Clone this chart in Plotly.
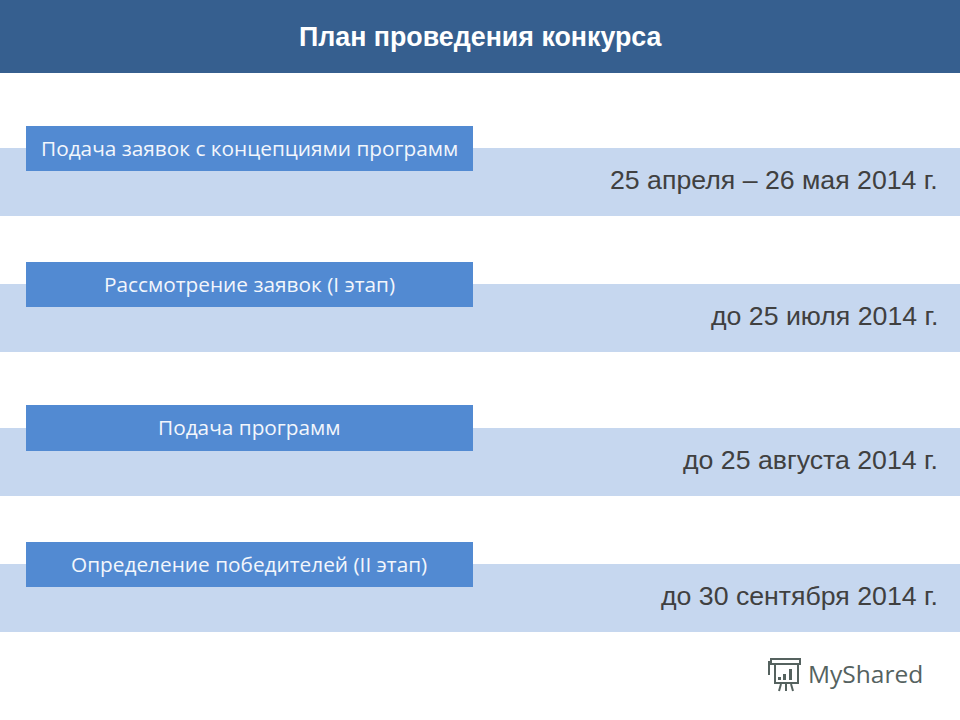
import plotly.graph_objects as go

title = 'План проведения конкурса'
stages = ['Подача заявок с концепциями программ', 'Рассмотрение заявок (I этап)', 'Подача программ', 'Определение победителей (II этап)']
dates = ['25 апреля – 26 мая 2014 г.', 'до 25 июля 2014 г.', 'до 25 августа 2014 г.', 'до 30 сентября 2014 г.']
logo_text = 'MyShared'

# layout, all in page pixels
band_tops = [148, 284, 428, 564]
box_tops = [126, 262, 405, 542]
box_heights = [45, 45, 46, 45]
band_h = 68
box_left = 26
box_w = 447

fig = go.Figure()

# header
fig.add_trace(go.Bar(x=[960], y=[36.5], width=[73], orientation='h', marker_color='#365F8F', marker_line_width=0, hoverinfo='skip'))
# light bands
fig.add_trace(go.Bar(
    x=[960] * len(dates), y=[t + band_h / 2 for t in band_tops], width=band_h,
    orientation='h', marker_color='#C6D7EF', marker_line_width=0, text=dates, hoverinfo='skip', textposition='none',
))
# stage boxes
fig.add_trace(go.Bar(
    x=[box_w] * len(stages), base=box_left, y=[t + h / 2 for t, h in zip(box_tops, box_heights)], width=box_heights,
    orientation='h', marker_color='#528AD2', marker_line_width=0, text=stages, hoverinfo='skip', textposition='none',
))

fig.add_annotation(x=480.5, y=37, text=f'<b>{title}</b>', showarrow=False, xanchor='center', yanchor='middle',
                   font={'family': 'Liberation Sans', 'size': 26.8, 'color': 'white'})

for stage, top in zip(stages, box_tops):
    fig.add_annotation(x=box_left + box_w / 2 - 0.5, y=top + 22, text=stage, showarrow=False, xanchor='center', yanchor='middle',
                       font={'family': 'Open Sans', 'size': 20.8, 'color': '#F2F6FC'})

for date, top in zip(dates, band_tops):
    fig.add_annotation(x=940, y=top + 32, text=date, showarrow=False, xanchor='right', yanchor='middle',
                       font={'family': 'Liberation Sans', 'size': 26.7, 'color': '#404040'})

# logo
logo_color = '#55625F'
fig.add_annotation(x=805.5, y=673, text=logo_text, showarrow=False, xanchor='left', yanchor='middle',
                   font={'family': 'Open Sans', 'size': 24.5, 'color': logo_color})
line = {'color': logo_color, 'width': 2}
fig.add_shape(type='rect', x0=775, x1=798, y0=664, y1=683, line=line)
fig.add_shape(type='rect', x0=771, x1=800, y0=659, y1=664, line=line)
fig.add_shape(type='line', x0=769, x1=769, y0=661, y1=675, line=line)
for x0, x1 in [(781, 779), (786, 786), (791, 793)]:
    fig.add_shape(type='line', x0=x0, x1=x1, y0=684, y1=691, line=line)
for x0, y0 in [(778, 677), (783, 674), (789, 669)]:
    fig.add_shape(type='rect', x0=x0, x1=x0 + 3, y0=y0, y1=680, fillcolor=logo_color, line_width=0)

fig.update_layout(
    width=960, height=720,
    margin={'l': 0, 'r': 0, 't': 0, 'b': 0},
    paper_bgcolor='white', plot_bgcolor='white',
    showlegend=False, barmode='overlay',
)
fig.update_xaxes(range=[0, 960], visible=False, fixedrange=True)
fig.update_yaxes(range=[720, 0], visible=False, fixedrange=True)

# the page's default body margin would shift the whole picture by 8px
fig.write_html('out.html', config={'displayModeBar': False}, post_script="document.body.style.margin = '0';")
